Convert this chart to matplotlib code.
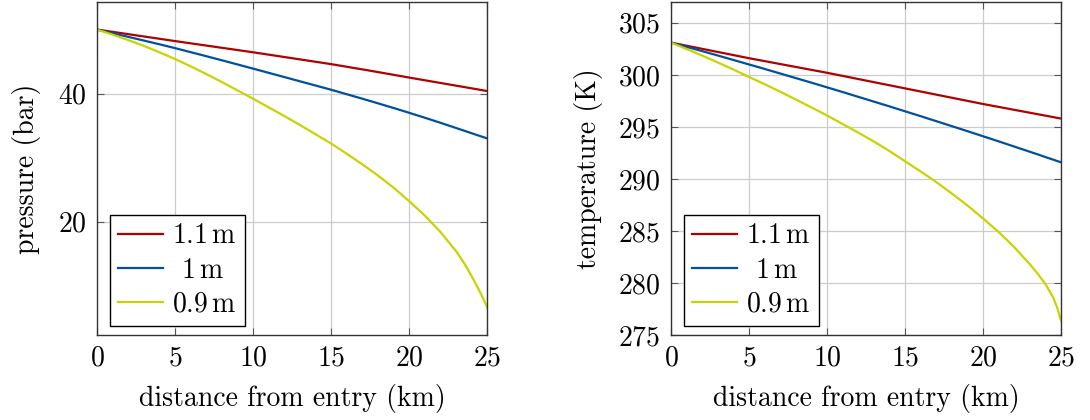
import matplotlib
matplotlib.use("Agg")
import matplotlib.pyplot as plt

plt.rcParams['font.family'] = 'cmr10'
plt.rcParams['mathtext.fontset'] = 'cm'
plt.rcParams['axes.formatter.use_mathtext'] = True

# distance from entry (km)
dist = [0, 1, 2, 3, 4, 5, 6, 7, 8, 9, 10, 11, 12, 13, 14, 15, 16, 17, 18, 19, 20,
        21, 22, 23, 23.5, 24, 24.5, 24.75, 25]

# pressure (bar)
p_11 = [50, 49.64, 49.28, 48.92, 48.56, 48.2, 47.85, 47.5, 47.15, 46.8, 46.45,
        46.08, 45.71, 45.34, 44.97, 44.6, 44.19, 43.78, 43.36, 42.93, 42.5,
        42.08, 41.66, 41.24, 41.03, 40.82, 40.61, 40.5, 40.4]
p_10 = [50, 49.43, 48.86, 48.28, 47.7, 47.1, 46.47, 45.84, 45.2, 44.55, 43.9,
        43.24, 42.58, 41.92, 41.26, 40.6, 39.9, 39.2, 38.48, 37.75, 37.0,
        36.23, 35.44, 34.63, 34.22, 33.81, 33.4, 33.2, 33.0]
p_09 = [50, 49.2, 48.35, 47.45, 46.45, 45.4, 44.25, 43.05, 41.8, 40.5, 39.2,
        37.85, 36.5, 35.1, 33.65, 32.2, 30.6, 28.95, 27.2, 25.3, 23.2,
        20.95, 18.4, 15.4, 13.6, 11.5, 9.2, 7.95, 6.6]

# temperature (K)
t_11 = [303.1, 302.8, 302.5, 302.2, 301.9, 301.6, 301.32, 301.04, 300.76, 300.48, 300.2,
        299.9, 299.6, 299.3, 299.0, 298.7, 298.4, 298.1, 297.8, 297.5, 297.2,
        296.92, 296.64, 296.36, 296.22, 296.08, 295.94, 295.87, 295.8]
t_10 = [303.1, 302.69, 302.28, 301.86, 301.43, 301.0, 300.57, 300.13, 299.69, 299.25, 298.8,
        298.35, 297.89, 297.43, 296.97, 296.5, 296.03, 295.55, 295.07, 294.59, 294.1,
        293.61, 293.11, 292.61, 292.36, 292.1, 291.85, 291.72, 291.6]
t_09 = [303.1, 302.48, 301.85, 301.19, 300.51, 299.8, 299.1, 298.38, 297.63, 296.87, 296.1,
        295.28, 294.45, 293.6, 292.68, 291.7, 290.72, 289.7, 288.6, 287.45, 286.2,
        284.9, 283.45, 281.8, 280.9, 279.9, 278.6, 277.65, 276.4]

labels = [r'$1.1\,\mathrm{m}$', r'$\:\,1\,\mathrm{m}$', r'$0.9\,\mathrm{m}$']
colors = ['#b00000', '#0050a0', '#c8d400']

FS = 20

fig = plt.figure(figsize=(10.9, 4.2), dpi=100)
ax1 = fig.add_axes([0.089, 0.2024, 0.358, 0.7928])
ax2 = fig.add_axes([0.6156, 0.2024, 0.3578, 0.7928])

def style(ax):
    ax.grid(True, color='#cccccc', linewidth=0.9)
    ax.set_axisbelow(True)
    ax.tick_params(direction='in', length=5, color='#555555', top=True, right=True,
                   labelsize=FS, pad=7.5)
    for s in ax.spines.values():
        s.set_color('#333333')
        s.set_linewidth(1.0)
    ax.set_xlim(0, 25)
    ax.set_xticks([0, 5, 10, 15, 20, 25])
    ax.set_xlabel('distance from entry (km)', fontsize=FS, labelpad=9)

for ys, lab, c in zip([p_11, p_10, p_09], labels, colors):
    ax1.plot(dist, ys, color=c, lw=1.6, label=lab)
style(ax1)
ax1.set_ylim(2.3, 54.3)
ax1.set_yticks([20, 40])
ax1.set_ylabel('pressure (bar)', fontsize=FS, labelpad=12)

for ys, lab, c in zip([t_11, t_10, t_09], labels, colors):
    ax2.plot(dist, ys, color=c, lw=1.6, label=lab)
style(ax2)
ax2.set_ylim(275, 307)
ax2.set_yticks([275, 280, 285, 290, 295, 300, 305])
ax2.set_ylabel('temperature (K)', fontsize=FS, labelpad=11)

for ax in (ax1, ax2):
    leg = ax.legend(loc='lower left', bbox_to_anchor=(0.033, 0.027), borderaxespad=0,
                    fontsize=FS, frameon=True, fancybox=False,
                    edgecolor='black', framealpha=1, handlelength=1.6,
                    labelspacing=0.28, handletextpad=0.35, borderpad=0.3)
    leg.get_frame().set_linewidth(1.0)

fig.savefig('out.png', dpi=100)
